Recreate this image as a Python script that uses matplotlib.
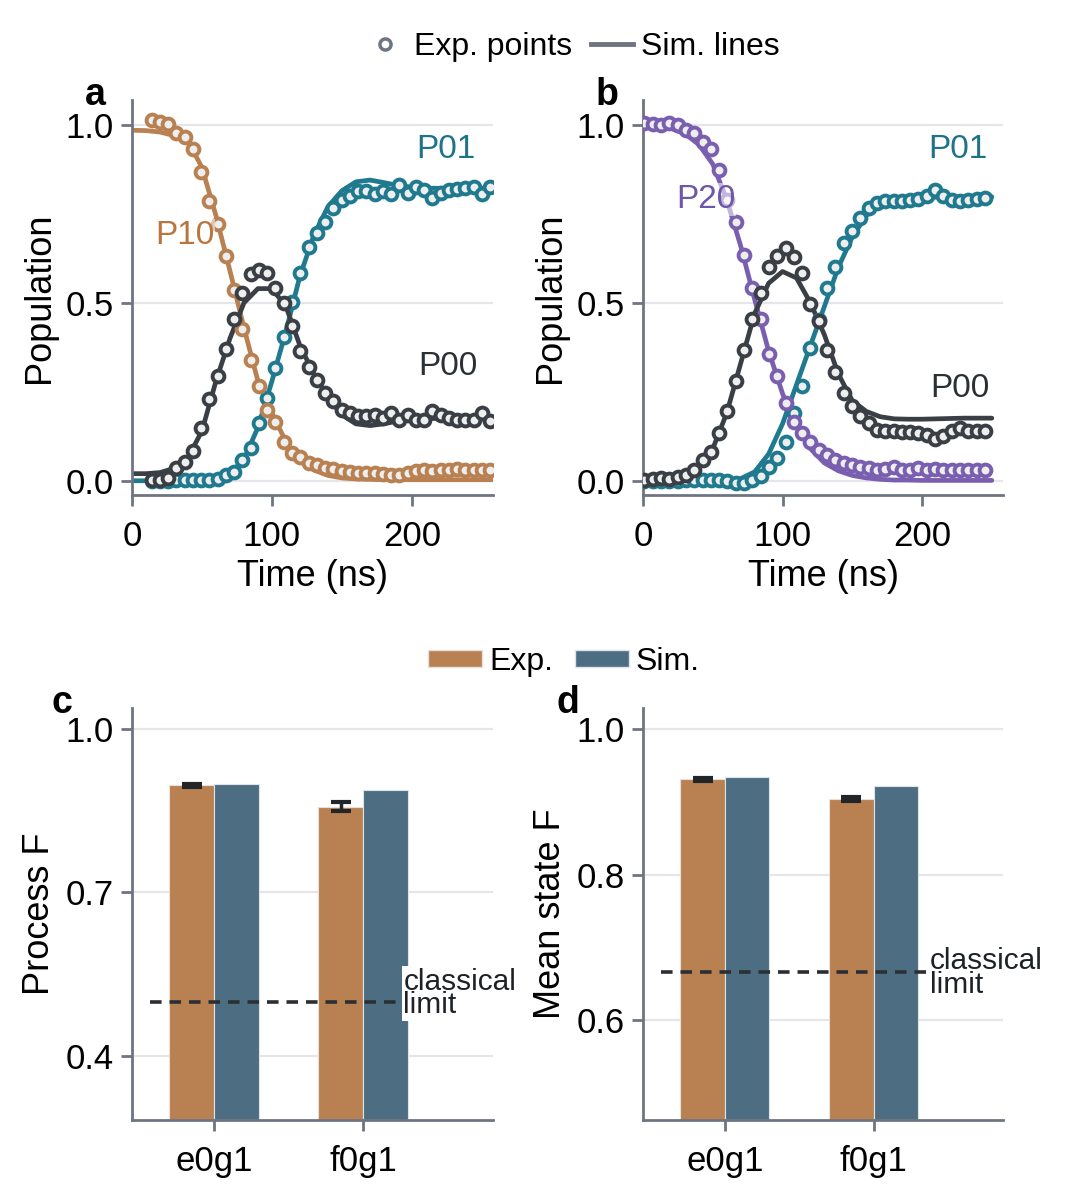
import numpy as np
import matplotlib
matplotlib.use("Agg")
import matplotlib.pyplot as plt
from matplotlib.lines import Line2D
from matplotlib.patches import Patch

plt.rcParams['font.family'] = ['Liberation Sans', 'DejaVu Sans']

# ---- panel a data (exp points every ~6 ns, sim every 10 ns)
t_exp_a = np.linspace(14, 256, 42)
p10_exp_a = [1.014, 1.009, 1.003, 0.977, 0.967, 0.932, 0.869, 0.785, 0.722, 0.633,
             0.535, 0.426, 0.338, 0.267, 0.199, 0.164, 0.110, 0.079, 0.067, 0.049,
             0.045, 0.035, 0.032, 0.028, 0.026, 0.023, 0.023, 0.021, 0.019, 0.017,
             0.017, 0.023, 0.028, 0.031, 0.028, 0.031, 0.031, 0.033, 0.031, 0.031,
             0.031, 0.031]
p01_exp_a = [0.0, 0.0, 0.0, 0.002, 0.002, 0.002, 0.002, 0.002, 0.004, 0.017,
             0.026, 0.059, 0.092, 0.162, 0.232, 0.316, 0.403, 0.501, 0.585, 0.656,
             0.696, 0.728, 0.766, 0.789, 0.799, 0.813, 0.813, 0.806, 0.813, 0.806,
             0.831, 0.808, 0.825, 0.817, 0.794, 0.810, 0.817, 0.819, 0.822, 0.825,
             0.806, 0.825]
p00_exp_a = [0.003, 0.003, 0.007, 0.036, 0.052, 0.085, 0.148, 0.229, 0.295, 0.370,
             0.454, 0.529, 0.581, 0.593, 0.583, 0.541, 0.499, 0.435, 0.366, 0.321,
             0.284, 0.246, 0.223, 0.199, 0.190, 0.181, 0.181, 0.185, 0.176, 0.190,
             0.171, 0.185, 0.171, 0.171, 0.195, 0.185, 0.176, 0.171, 0.171, 0.171,
             0.190, 0.167]
t_sim_a = np.arange(0, 261, 10)
p10_sim_a = [0.985, 0.984, 0.98, 0.97, 0.955, 0.88, 0.745, 0.59, 0.43, 0.28,
             0.19, 0.11, 0.055, 0.03, 0.015, 0.008, 0.005, 0.004, 0.003, 0.003,
             0.003, 0.003, 0.003, 0.003, 0.003, 0.003, 0.003]
p01_sim_a = [0.0, 0.0, 0.0, 0.0, 0.0, 0.002, 0.008, 0.02, 0.06, 0.15,
             0.28, 0.42, 0.575, 0.69, 0.77, 0.815, 0.84, 0.845, 0.838, 0.83,
             0.825, 0.822, 0.822, 0.822, 0.822, 0.822, 0.822]
p00_sim_a = [0.02, 0.02, 0.023, 0.035, 0.065, 0.14, 0.28, 0.40, 0.50, 0.54,
             0.54, 0.49, 0.38, 0.30, 0.235, 0.185, 0.16, 0.155, 0.16, 0.168,
             0.172, 0.175, 0.175, 0.175, 0.175, 0.175, 0.175]

# ---- panel b data
t_exp_b = np.linspace(1, 245, 42)
p20_exp_b = [1.005, 1.003, 1.0, 1.006, 1.0, 0.986, 0.977, 0.953, 0.932, 0.874,
             0.789, 0.726, 0.635, 0.541, 0.454, 0.357, 0.295, 0.218, 0.164, 0.134,
             0.110, 0.087, 0.073, 0.059, 0.050, 0.045, 0.040, 0.036, 0.031, 0.033,
             0.040, 0.031, 0.029, 0.036, 0.031, 0.033, 0.031, 0.029, 0.031, 0.029,
             0.031, 0.029]
p01_exp_b = [0.0, 0.0, 0.0, 0.0, 0.0, 0.002, 0.003, 0.003, 0.001, 0.001,
             -0.002, -0.007, -0.005, 0.003, 0.012, 0.040, 0.064, 0.110, 0.190, 0.265,
             0.373, 0.452, 0.541, 0.602, 0.669, 0.703, 0.738, 0.766, 0.780, 0.785,
             0.785, 0.785, 0.789, 0.791, 0.799, 0.816, 0.799, 0.789, 0.785, 0.789,
             0.791, 0.794]
p00_exp_b = [0.003, 0.005, 0.007, 0.005, 0.010, 0.015, 0.031, 0.057, 0.082, 0.134,
             0.195, 0.279, 0.368, 0.454, 0.529, 0.600, 0.632, 0.655, 0.628, 0.585,
             0.497, 0.450, 0.368, 0.307, 0.246, 0.209, 0.181, 0.162, 0.143, 0.139,
             0.139, 0.136, 0.136, 0.134, 0.129, 0.117, 0.125, 0.139, 0.148, 0.139,
             0.139, 0.141]
t_sim_b = np.arange(0, 251, 10)
p20_sim_b = [1.0, 0.998, 0.99, 0.975, 0.945, 0.89, 0.79, 0.66, 0.51, 0.365,
             0.245, 0.155, 0.09, 0.05, 0.028, 0.015, 0.008, 0.004, 0.002, 0.002,
             0.001, 0.001, 0.001, 0.001, 0.001, 0.001]
p01_sim_b = [0.0, 0.0, 0.0, 0.0, 0.0, -0.002, -0.003, 0.006, 0.025, 0.075,
             0.16, 0.27, 0.38, 0.49, 0.6, 0.685, 0.745, 0.775, 0.787, 0.792,
             0.795, 0.797, 0.798, 0.798, 0.798, 0.798]
p00_sim_b = [0.0, 0.002, 0.007, 0.017, 0.04, 0.09, 0.19, 0.33, 0.47, 0.555,
             0.588, 0.57, 0.50, 0.41, 0.30, 0.225, 0.195, 0.18, 0.174, 0.173,
             0.173, 0.174, 0.175, 0.176, 0.176, 0.176]

# ---- bar panels
gates = ['e0g1', 'f0g1']
proc_exp = [0.896, 0.857]
proc_exp_err = [0.003, 0.008]
proc_sim = [0.899, 0.888]
state_exp = [0.931, 0.904]
state_exp_err = [0.002, 0.003]
state_sim = [0.934, 0.922]
proc_classical = 0.5
state_classical = 2 / 3

c_orange = '#b98151'
c_teal = '#1f7a8f'
c_dark = '#3a3f45'
c_purple = '#7a5fb0'
c_sim = '#4d6e82'
c_axis = '#6e7582'
c_grid = '#e6e6ea'

W, H = 1073, 1199
fig = plt.figure(figsize=(W / 100, H / 100), dpi=100)


def px_axes(x0, y0, x1, y1):
    return fig.add_axes([x0 / W, 1 - y1 / H, (x1 - x0) / W, (y1 - y0) / H])


def style(ax):
    for s in ['top', 'right']:
        ax.spines[s].set_visible(False)
    for s in ['left', 'bottom']:
        ax.spines[s].set_color(c_axis)
        ax.spines[s].set_linewidth(2)
    ax.tick_params(colors=c_axis, width=2, length=8, labelsize=25, labelcolor='black')
    ax.tick_params(axis='x', pad=10)
    ax.tick_params(axis='y', pad=5)
    ax.yaxis.grid(True, color=c_grid, lw=1.6)
    ax.set_axisbelow(True)


def label_box(ax, x, y, s, col):
    ax.text(x, y, s, color=col, fontsize=24, ha='center', va='center', zorder=5,
            bbox=dict(facecolor='white', edgecolor='none', alpha=0.55, pad=0.5))


def pop_panel(ax, t_exp, t_sim, series):
    style(ax)
    for exp, sim, col in series:
        ax.plot(t_sim, sim, color=col, lw=3.4, zorder=2, solid_capstyle='round')
    for exp, sim, col in series:
        ax.plot(t_exp, exp, 'o', ms=8.5, mfc='#eeeeee', mec=col, mew=2.8, zorder=3)
    ax.set_xlim(0, 258)
    ax.set_ylim(-0.04, 1.07)
    ax.set_xticks([0, 100, 200])
    ax.set_yticks([0.0, 0.5, 1.0])
    ax.set_yticklabels(['0.0', '0.5', '1.0'])
    ax.set_xlabel('Time (ns)', fontsize=26, labelpad=4)
    ax.set_ylabel('Population', fontsize=26, labelpad=6)


ax_a = px_axes(132, 100, 493, 495)
pop_panel(ax_a, t_exp_a, t_sim_a,
          [(p01_exp_a, p01_sim_a, c_teal),
           (p10_exp_a, p10_sim_a, c_orange),
           (p00_exp_a, p00_sim_a, c_dark)])
label_box(ax_a, 38, 0.69, 'P10', '#b8763e')
ax_a.text(224, 0.93, 'P01', color='#1f7388', fontsize=24, ha='center', va='center')
ax_a.text(226, 0.32, 'P00', color='#2b3035', fontsize=24, ha='center', va='center')

ax_b = px_axes(643, 100, 1003, 495)
pop_panel(ax_b, t_exp_b, t_sim_b,
          [(p01_exp_b, p01_sim_b, c_teal),
           (p20_exp_b, p20_sim_b, c_purple),
           (p00_exp_b, p00_sim_b, c_dark)])
label_box(ax_b, 45, 0.79, 'P20', '#6e56a8')
ax_b.text(226, 0.93, 'P01', color='#1f7388', fontsize=24, ha='center', va='center')
ax_b.text(227, 0.26, 'P00', color='#2b3035', fontsize=24, ha='center', va='center')


def bar_panel(ax, exp, err, sim, classical, ylim, yticks, ylabel, line_end, lab_x, lab_y):
    style(ax)
    x = np.arange(len(gates))
    w = 0.30
    ax.bar(x - w / 2, exp, w, color=c_orange, edgecolor='#e8e0da', lw=0.8, zorder=2)
    ax.bar(x + w / 2, sim, w, color=c_sim, edgecolor='#dde3e8', lw=0.8, zorder=2)
    ax.errorbar(x - w / 2, exp, yerr=err, fmt='none', ecolor='#22252a',
                elinewidth=2.5, capsize=7, capthick=3, zorder=3)
    ax.plot([-0.43, line_end], [classical, classical], ls=(0, (3.2, 2.2)), color='#2b2f33',
            lw=2.6, zorder=4)
    ax.text(lab_x, lab_y, 'classical\nlimit', fontsize=21.5, ha='left', va='center',
            linespacing=0.8, color='#1e2226',
            bbox=dict(facecolor='white', edgecolor='none', pad=1), zorder=5)
    ax.set_xlim(-0.55, 1.87)
    ax.set_ylim(*ylim)
    ax.set_xticks(x)
    ax.set_xticklabels(gates)
    ax.set_yticks(yticks)
    ax.set_yticklabels(['%.1f' % v for v in yticks])
    ax.set_ylabel(ylabel, fontsize=26, labelpad=6)


ax_c = px_axes(132, 708, 493, 1120)
bar_panel(ax_c, proc_exp, proc_exp_err, proc_sim, proc_classical,
          (0.283, 1.038), [0.4, 0.7, 1.0], 'Process F', 1.27, 1.27, 0.515)
ax_d = px_axes(643, 708, 1003, 1120)
bar_panel(ax_d, state_exp, state_exp_err, state_sim, state_classical,
          (0.4625, 1.029), [0.6, 0.8, 1.0], 'Mean state F', 1.36, 1.38, 0.665)

# panel letters
for lab, xp, yp in [('a', 95, 95), ('b', 607, 95), ('c', 62, 703), ('d', 568, 703)]:
    fig.text(xp / W, 1 - yp / H, lab, fontsize=27, fontweight='bold', ha='center', va='center')

# legends
h1 = [Line2D([], [], marker='o', ls='none', ms=8, mfc='white', mec=c_axis, mew=2.5),
      Line2D([], [], color=c_axis, lw=3.5)]
fig.legend(h1, ['Exp. points', 'Sim. lines'], loc='center', bbox_to_anchor=(572 / W, 1 - 47 / H),
           ncol=2, frameon=False, fontsize=23, handlelength=1.3, columnspacing=0.6,
           handletextpad=0.25)
h2 = [Patch(facecolor=c_orange, edgecolor='#e8e0da'), Patch(facecolor=c_sim, edgecolor='#dde3e8')]
fig.legend(h2, ['Exp.', 'Sim.'], loc='center', bbox_to_anchor=(564 / W, 1 - 662 / H),
           ncol=2, frameon=False, fontsize=23, handlelength=1.7, handleheight=0.45,
           columnspacing=0.7, handletextpad=0.2)

fig.savefig('out.png', dpi=100)
